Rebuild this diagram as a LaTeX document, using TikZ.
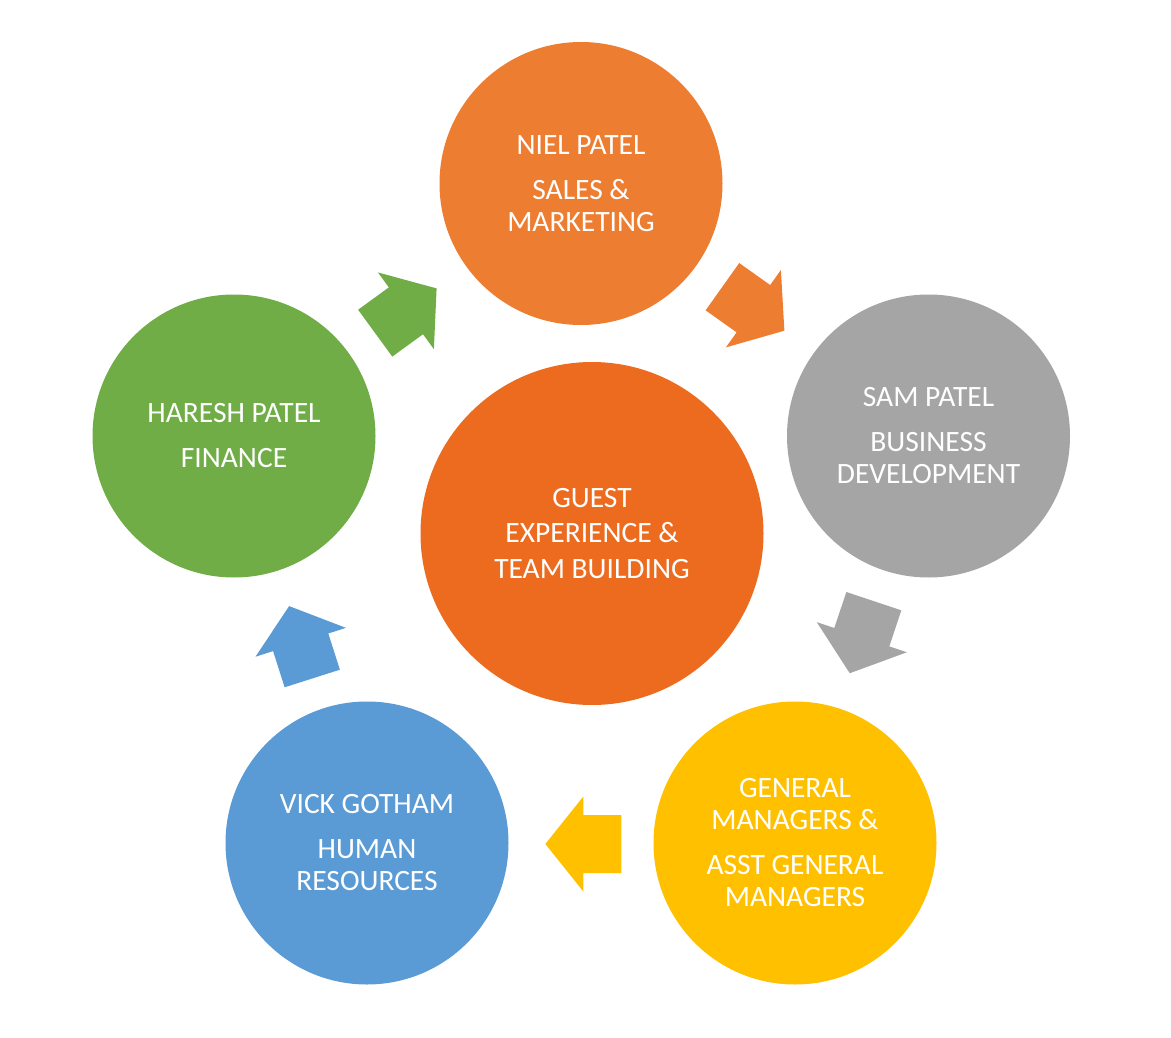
\documentclass[tikz,border=0pt]{standalone}
\usepackage{fontspec}
\setmainfont{Carlito}
\definecolor{cOrange}{HTML}{ED7D31}
\definecolor{cCenter}{HTML}{EC6B1F}
\definecolor{cGray}{HTML}{A5A5A5}
\definecolor{cYellow}{HTML}{FFC000}
\definecolor{cBlue}{HTML}{5B9BD5}
\definecolor{cGreen}{HTML}{70AD47}
\tikzset{
  circ/.style={circle, minimum size=283pt, inner sep=0pt, align=center,
    text=white, font=\fontsize{29.5}{32}\selectfont},
  bigcirc/.style={circ, minimum size=343pt, font=\fontsize{29.5}{35.5}\selectfont},
}
\newcommand{\blockarrow}[3]{%
  \begin{scope}[shift={#1}, rotate=#2]
    \fill[#3] (-38,-29) -- (0,-29) -- (0,-47.5) -- (38,0) -- (0,47.5) -- (0,29) -- (-38,29) -- cycle;
  \end{scope}}
\begin{document}
\begin{tikzpicture}[x=1pt, y=-1pt]
    \useasboundingbox (0,0) rectangle (1171,1038);

    \coordinate (c01) at (581,183.5);
    \coordinate (c02) at (928.5,436);
    \coordinate (c03) at (795,843);
    \coordinate (c04) at (367,843);
    \coordinate (c05) at (234,436);
    \coordinate (c06) at (592,533.5);

    \node[circ, fill=cOrange] (n01) at (c01) {NIEL PATEL\\[13pt]SALES \&\\MARKETING};
    \node[circ, fill=cGray]   (n02) at (c02) {SAM PATEL\\[13pt]BUSINESS\\DEVELOPMENT};
    \node[circ, fill=cYellow] (n03) at (c03) {GENERAL\\MANAGERS \&\\[13pt]ASST GENERAL\\MANAGERS};
    \node[circ, fill=cBlue]   (n04) at (c04) {VICK GOTHAM\\[13pt]HUMAN\\RESOURCES};
    \node[circ, fill=cGreen]  (n05) at (c05) {HARESH PATEL\\[13pt]FINANCE};
    \node[bigcirc, fill=cCenter] (n06) at (c06) {GUEST\\EXPERIENCE \&\\TEAM BUILDING};

    % arrows round the ring
    \blockarrow{(405.9,310.8)}{36.1}{cGreen}
    \blockarrow{(753.4,308.7)}{-35.4}{cOrange}
    \blockarrow{(861.8,637.2)}{-108.5}{cGray}
    \blockarrow{(583.3,844)}{180}{cYellow}
    \blockarrow{(300.7,642.3)}{107.7}{cBlue}

\end{tikzpicture}
\end{document}
